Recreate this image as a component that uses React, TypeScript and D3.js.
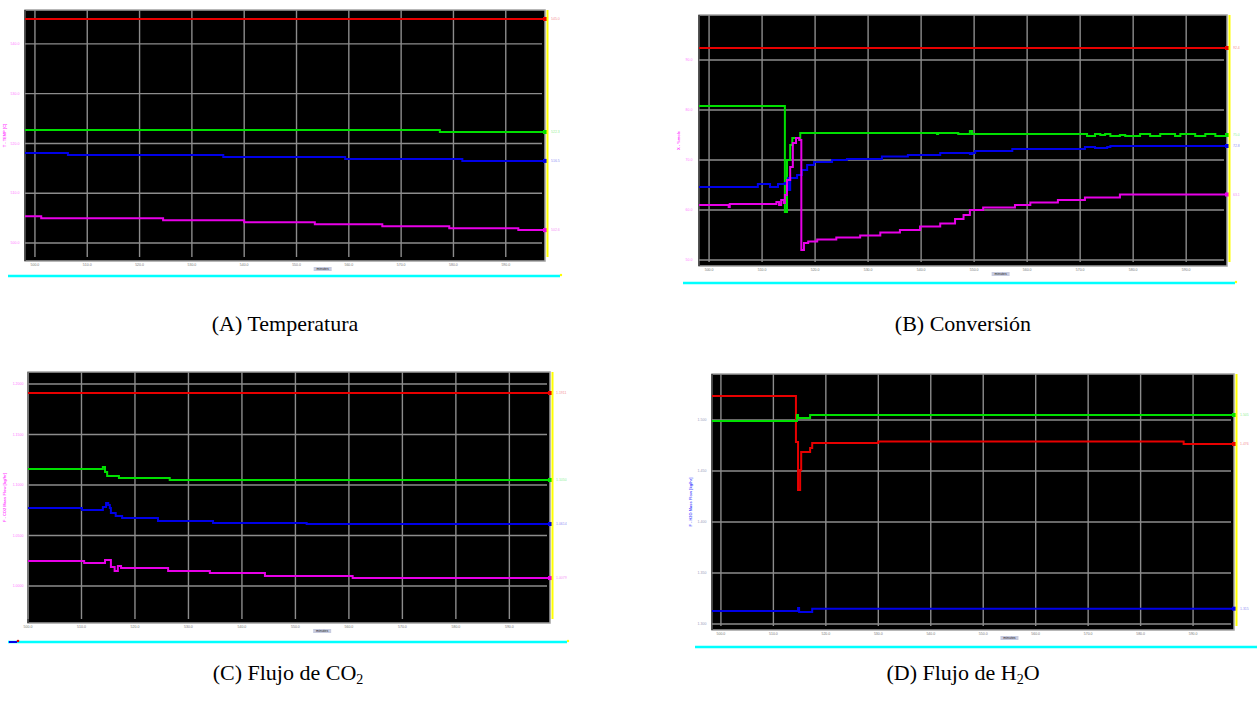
import React from 'react';
import * as d3 from 'd3';

// time in minutes, values
const xTicks = [500, 510, 520, 530, 540, 550, 560, 570, 580, 590];

const tempTicks = [500, 510, 520, 530, 540];
const tempRed = [[498.1, 545.0], [597.5, 545.0]];
const tempGreen = [[498.1, 522.7], [577.4, 522.3], [597.5, 522.3]];
const tempBlue = [[498.1, 518.1], [506.3, 517.7], [536.0, 517.3], [559.3, 516.9], [581.7, 516.5], [597.5, 516.5]];
const tempMagenta = [[498.1, 505.4], [501.2, 505.0], [524.5, 504.6], [540.0, 504.2], [553.5, 503.8], [566.4, 503.4], [579.2, 503.0], [592.4, 502.6], [597.5, 502.6]];

const convTicks = [50, 60, 70, 80, 90];
const convRed = [[498.1, 92.4], [597.7, 92.4]];
const convGreen = [[498.1, 80.8], [514.1, 80.8], [514.3, 59.6], [514.7, 70.0], [515.3, 73.0], [515.7, 74.4], [517.2, 75.4], [543.0, 75.2], [543.2, 75.4], [547.0, 75.2], [549.2, 75.8], [549.6, 75.2], [571.3, 74.8], [572.8, 75.2], [573.8, 75.0], [574.7, 75.2], [575.7, 74.8], [577.5, 75.0], [578.5, 74.8], [581.3, 75.2], [583.2, 74.8], [585.1, 75.2], [587.9, 74.8], [588.9, 75.2], [591.7, 74.8], [593.6, 75.2], [595.5, 74.8], [597.7, 75.0]];
const convBlue = [[498.1, 64.6], [509.2, 65.2], [511.5, 64.6], [513.0, 65.2], [514.3, 65.4], [514.9, 66.4], [515.1, 64.0], [515.3, 66.4], [516.6, 67.0], [517.5, 68.0], [518.5, 69.0], [519.8, 69.6], [523.2, 70.0], [526.0, 70.2], [532.6, 70.7], [537.5, 71.0], [543.6, 71.4], [549.2, 71.2], [549.6, 71.4], [550.2, 71.8], [557.2, 72.2], [570.9, 72.6], [572.8, 72.4], [575.1, 72.6], [575.7, 72.8], [597.7, 72.8]];
const convMagenta = [[498.1, 61.0], [503.7, 60.6], [503.9, 61.2], [512.7, 61.6], [513.2, 61.0], [513.6, 62.0], [514.1, 61.4], [514.3, 63.0], [514.7, 66.0], [515.3, 68.6], [515.8, 73.4], [516.4, 74.4], [517.0, 74.0], [517.4, 52.0], [517.9, 53.4], [518.7, 53.7], [520.4, 54.1], [524.0, 54.5], [528.5, 54.9], [532.3, 55.5], [536.0, 56.0], [539.8, 56.7], [543.6, 57.3], [546.4, 58.2], [548.0, 59.0], [549.2, 60.0], [551.7, 60.5], [557.7, 61.0], [560.6, 61.5], [565.8, 62.0], [570.9, 62.5], [577.5, 63.1], [597.7, 63.1]];

const co2Ticks = [1.0, 1.05, 1.1, 1.15, 1.2];
const co2Red = [[500, 1.1911], [597.6, 1.1911]];
const co2Green = [[500, 1.1158], [514.0, 1.1178], [514.4, 1.1129], [514.8, 1.1089], [517.0, 1.1069], [526.5, 1.105], [597.6, 1.105]];
const co2Blue = [[500, 1.0772], [510.1, 1.0752], [514.0, 1.0782], [514.6, 1.0822], [515.0, 1.0802], [515.3, 1.0772], [515.5, 1.0723], [516.4, 1.0693], [517.6, 1.0673], [524.3, 1.0644], [534.6, 1.0624], [552.1, 1.0614], [597.6, 1.0614]];
const co2Magenta = [[500, 1.0248], [510.5, 1.0228], [514.4, 1.0257], [515.5, 1.0188], [516.2, 1.0149], [516.8, 1.0198], [517.4, 1.0178], [526.2, 1.0149], [534.0, 1.0129], [544.3, 1.0099], [560.7, 1.0079], [597.6, 1.0079]];

const h2oTicks = [1.3, 1.35, 1.4, 1.45, 1.5];
const h2oRed = [[498.3, 1.5235], [514.3, 1.4784], [514.7, 1.4314], [515.1, 1.451], [515.3, 1.4686], [517.0, 1.4725], [517.4, 1.4775], [530.0, 1.4789], [588.2, 1.4765], [597.8, 1.4765]];
const h2oGreen = [[498.3, 1.499], [514.5, 1.5049], [514.7, 1.502], [517.0, 1.5049], [597.8, 1.5049]];
const h2oBlue = [[498.3, 1.3127], [514.7, 1.3157], [514.9, 1.3118], [517.4, 1.315], [597.8, 1.315]];

const RED = '#e80000';
const GREEN = '#00e000';
const BLUE = '#0000e8';
const MAGENTA = '#e800e8';

const panels = [
  {
    box: [25, 10, 545, 261], xDomain: [498.1, 597.5], yDomain: [496.4, 546.8], yTicks: tempTicks, fmt: '.1f',
    series: [[tempRed, RED], [tempGreen, GREEN], [tempBlue, BLUE], [tempMagenta, MAGENTA]],
    yTitle: 'T - TEMP [C]', titleColor: '#ff44ff', tickColor: '#ff77ff', titleX: 6,
    cyan: [8, 560, 276], caption: '(A) Temperatura', capX: 285, capY: 331, sub: null,
  },
  {
    box: [699, 15, 1227, 266], xDomain: [498.1, 597.7], yDomain: [48.8, 99], yTicks: convTicks, fmt: '.1f',
    series: [[convRed, RED], [convGreen, GREEN], [convBlue, BLUE], [convMagenta, MAGENTA]],
    yTitle: 'X - %mole', titleColor: '#ff44ff', tickColor: '#ff77ff', titleX: 680,
    cyan: [683, 1235, 283], caption: '(B) Conversión', capX: 963, capY: 331, sub: null,
  },
  {
    box: [28, 372, 550, 623], xDomain: [500, 597.6], yDomain: [0.9634, 1.2119], yTicks: co2Ticks, fmt: '.4f',
    series: [[co2Red, RED], [co2Green, GREEN], [co2Blue, BLUE], [co2Magenta, MAGENTA]],
    yTitle: 'F - CO2 Mass Flow [kg/hr]', titleColor: '#ff44ff', tickColor: '#ff77ff', titleX: 6,
    cyan: [8, 567, 642], caption: '(C) Flujo de CO', capX: 288, capY: 680, sub: ['2', ''],
  },
  {
    box: [712, 374, 1234, 630], xDomain: [498.3, 597.8], yDomain: [1.2941, 1.5451], yTicks: h2oTicks, fmt: '.3f',
    series: [[h2oRed, RED], [h2oGreen, GREEN], [h2oBlue, BLUE]],
    yTitle: 'F - H2O Mass Flow [kg/hr]', titleColor: '#5555ff', tickColor: '#9999bb', titleX: 692,
    cyan: [695, 1257, 647], caption: '(D) Flujo de H', capX: 963, capY: 680, sub: ['2', 'O'],
  },
];

function Panel({ p }) {
  const [left, top, right, bottom] = p.box;
  const x = d3.scaleLinear().domain(p.xDomain).range([left, right]);
  const y = d3.scaleLinear().domain(p.yDomain).range([bottom, top]);
  const line = d3.line().x(d => x(d[0])).y(d => y(d[1])).curve(d3.curveStepAfter);
  const fmt = d3.format(p.fmt);
  const midY = (top + bottom) / 2;
  const [cx1, cx2, cy] = p.cyan;
  const xMid = (x(550) + x(560)) / 2;

  return (
    <g>
      <rect x={left} y={top} width={right - left} height={bottom - top} fill="#000" stroke="#a0a0a0" strokeWidth={1.5} />
      <line x1={left} x2={left} y1={top} y2={bottom} stroke="#333" strokeWidth={1.5} />
      {xTicks.map(t => (
        <g key={'x' + t}>
          <line x1={x(t)} x2={x(t)} y1={top} y2={bottom - 4} stroke="#8c8c8c" strokeWidth={1.4} />
          <text x={x(t)} y={bottom + 5} fontSize={3.5} fill="#777" textAnchor="middle">{t.toFixed(1)}</text>
        </g>
      ))}
      {p.yTicks.map(t => (
        <g key={'y' + t}>
          <line x1={left} x2={right - 3} y1={y(t)} y2={y(t)} stroke="#8c8c8c" strokeWidth={1.4} />
          <text x={left - 10} y={y(t) + 1.2} fontSize={3.5} fill={p.tickColor} textAnchor="middle">{fmt(t)}</text>
        </g>
      ))}
      {p.series.map(([data, color], i) => {
        const last = data[data.length - 1][1];
        return (
          <g key={'s' + i}>
            <path d={line(data)} fill="none" stroke={color} strokeWidth={2} />
            <rect x={right - 2} y={y(last) - 2} width={4} height={4} fill={color} />
            <text x={right + 6} y={y(last) + 1.3} fontSize={3.5} fill={color} opacity={0.45}>{fmt(last)}</text>
          </g>
        );
      })}
      <line x1={right + 2.5} x2={right + 2.5} y1={top} y2={bottom - 4} stroke="#ffff00" strokeWidth={2} />
      <rect x={xMid - 9} y={bottom + 6} width={18} height={4} fill="#c8cce0" />
      <text x={xMid} y={bottom + 9.2} fontSize={3.5} fill="#222" textAnchor="middle">minutes</text>
      <text transform={`translate(${p.titleX},${midY}) rotate(-90)`} fontSize={4} fill={p.titleColor} textAnchor="middle" fontWeight="bold">
        {p.yTitle}
      </text>
      <line x1={cx1} x2={cx2} y1={cy} y2={cy} stroke="#00ffff" strokeWidth={2.5} />
      <circle cx={cx2 + 1} cy={cy - 1} r={1.2} fill="#ffff00" />
      <text x={p.capX} y={p.capY} fontSize={22} fontFamily="'Liberation Serif', 'Times New Roman', serif" fill="#000" textAnchor="middle">
        {p.caption}
        {p.sub && <tspan fontSize={14} dy={4}>{p.sub[0]}</tspan>}
        {p.sub && p.sub[1] && <tspan dy={-4}>{p.sub[1]}</tspan>}
      </text>
    </g>
  );
}

export default function App() {
  return (
    <svg width={1257} height={704} style={{ position: 'absolute', left: 0, top: 0, background: '#fff' }}
      fontFamily="'Liberation Sans', Arial, sans-serif">
      {panels.map((p, i) => <Panel key={i} p={p} />)}
      <line x1={9} x2={17} y1={642} y2={642} stroke="#0000e8" strokeWidth={2} />
      <circle cx={18} cy={641} r={1.3} fill="#e80000" />
    </svg>
  );
}
